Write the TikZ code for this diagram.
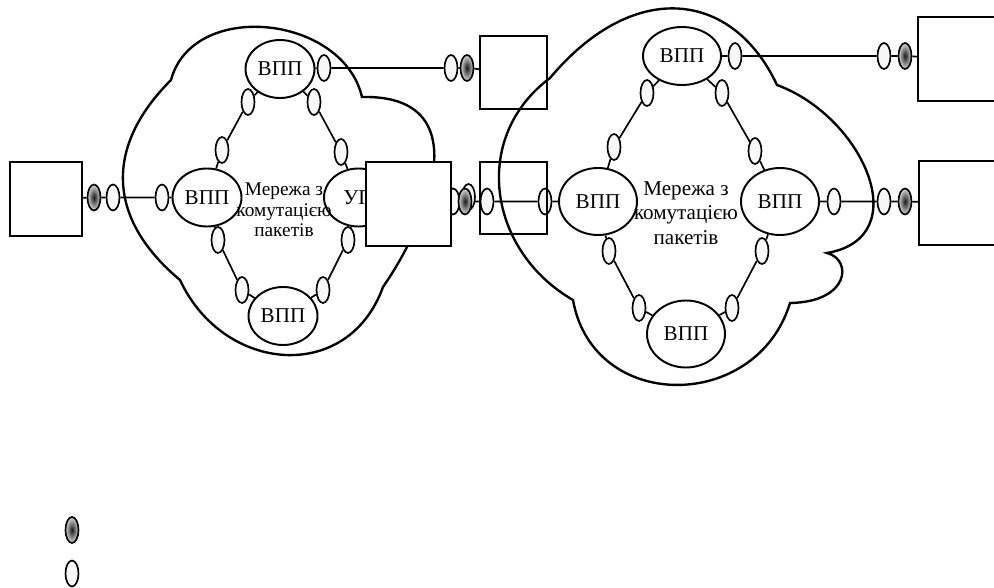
\documentclass[tikz,border=0pt]{standalone}
\usepackage{fontspec}
\setmainfont{Liberation Serif}
\usetikzlibrary{shapes.geometric,backgrounds}

\begin{document}
\begin{tikzpicture}[
  vpp/.style={draw, ellipse, line width=1.1pt, fill=white, inner sep=0pt,
    minimum width=1.38cm, minimum height=1.16cm, font=\fontsize{12}{14}\selectfont},
  vppbig/.style={vpp, minimum width=1.56cm, minimum height=1.34cm},
  port/.style={draw, ellipse, line width=0.95pt, fill=gray!6, inner sep=0pt,
    minimum width=0.26cm, minimum height=0.52cm},
  hport/.style={draw, ellipse, line width=0.95pt, inner sep=0pt,
    minimum width=0.26cm, minimum height=0.52cm, inner color=black!90, outer color=gray!30},
  termbox/.style={draw, line width=0.9pt, inner sep=0pt},
  cloudline/.style={line width=1.35pt},
  link/.style={line width=0.95pt}
]
  \useasboundingbox (0,0) rectangle (19.88,11.74);
  \clip (0,0) rectangle (19.88,11.74);

  % мережа 1
  \node[vpp] (t1) at (5.60,10.36) {ВПП};
  \node[vpp] (l1) at (4.14,7.79) {ВПП};
  \node[vpp] (u1) at (7.17,7.79) {УП};
  \node[vpp] (b1) at (5.66,5.42) {ВПП};
  \node[align=center, font=\fontsize{11}{11.8}\selectfont] (txt1) at (5.68,7.54) {Мережа з\\комутацією\\пакетів};

  \node[port] (k1a) at (4.96,9.70) {};
  \node[port] (k1b) at (4.44,8.74) {};
  \node[port] (k1c) at (6.28,9.70) {};
  \node[port] (k1d) at (6.82,8.70) {};
  \node[port] (k1e) at (4.36,6.94) {};
  \node[port] (k1f) at (4.84,5.94) {};
  \node[port] (k1g) at (6.96,6.94) {};
  \node[port] (k1h) at (6.46,5.94) {};

  % мережа 2
  \node[vppbig, minimum height=1.16cm] (t2) at (13.64,10.62) {ВПП};
  \node[vppbig] (l2) at (11.96,7.71) {ВПП};
  \node[vppbig] (r2) at (15.60,7.71) {ВПП};
  \node[vppbig] (b2) at (13.72,5.06) {ВПП};
  \node[align=center, font=\fontsize{12}{13.9}\selectfont] (txt2) at (13.72,7.48) {Мережа з\\комутацією\\пакетів};

  \node[port] (k2a) at (12.94,9.88) {};
  \node[port] (k2b) at (12.28,8.80) {};
  \node[port] (k2c) at (14.44,9.88) {};
  \node[port] (k2d) at (15.10,8.72) {};
  \node[port] (k2e) at (12.18,6.72) {};
  \node[port] (k2f) at (12.78,5.58) {};
  \node[port] (k2g) at (15.24,6.72) {};
  \node[port] (k2h) at (14.64,5.58) {};

  % зовнішні порти
  \node[hport] (hL1) at (1.88,7.79) {};
  \node[port] (eL1) at (2.26,7.79) {};
  \node[port] (pL1) at (3.24,7.79) {};

  \node[port] (pT1) at (6.48,10.38) {};
  \node[port] (eT1) at (9.02,10.38) {};
  \node[hport] (hT1) at (9.34,10.38) {};

  \node[port] (e3a) at (9.06,7.71) {};
  \node[port] (e3c) at (9.37,7.80) {};
  \node[hport] (h3b) at (9.30,7.71) {};
  \node[port] (e3d) at (9.74,7.71) {};
  \node[port] (p3e) at (10.90,7.71) {};

  \node[port] (pT2) at (14.70,10.62) {};
  \node[port] (eT2) at (17.68,10.62) {};
  \node[hport] (hT2) at (18.10,10.62) {};

  \node[port] (pR2) at (16.68,7.71) {};
  \node[port] (eR2) at (17.68,7.71) {};
  \node[hport] (hR2) at (18.10,7.71) {};

  % термінали
  \node[termbox, minimum width=1.44cm, minimum height=1.48cm] (srcL) at (0.92,7.76) {};
  \node[termbox, fill=white, minimum width=1.70cm, minimum height=1.68cm] (gw) at (8.17,7.66) {};
  \node[termbox, minimum width=1.34cm, minimum height=1.46cm] (boxA) at (10.27,10.29) {};
  \node[termbox, minimum width=1.34cm, minimum height=1.44cm] (boxB) at (10.27,7.78) {};
  \node[termbox, minimum width=1.74cm, minimum height=1.68cm] (boxC) at (19.23,10.56) {};
  \node[termbox, minimum width=1.72cm, minimum height=1.68cm] (boxD) at (19.24,7.68) {};

  % позначення
  \node[hport] (leg1) at (1.44,1.14) {};
  \node[port] (leg2) at (1.44,0.27) {};

  \begin{scope}[on background layer]
    % хмари
    \draw[cloudline] (3.42,10.14) .. controls (3.85,11.75) and (6.85,11.45) .. (7.24,9.80)
      .. controls (9.6,9.85) and (8.57,7.31) .. (7.66,6.00)
      .. controls (6.96,4.06) and (4.47,4.27) .. (3.60,6.14)
      .. controls (2.14,7.36) and (2.08,8.80) .. (3.42,10.14);
    \draw[cloudline] (11.00,10.18) .. controls (12.67,12.17) and (14.65,11.94) .. (15.54,10.04)
      .. controls (17.26,9.41) and (18.34,6.99) .. (16.54,6.68)
      .. controls (17.05,6.55) and (17.00,5.70) .. (15.80,5.68)
      .. controls (15.13,3.49) and (11.86,3.48) .. (11.46,5.74)
      .. controls (9.75,6.73) and (9.42,9.00) .. (11.00,10.18);

    % зв'язки
    \draw[link] (t1) -- (k1a) -- (k1b) -- (l1);
    \draw[link] (t1) -- (k1c) -- (k1d) -- (u1);
    \draw[link] (l1) -- (k1e) -- (k1f) -- (b1);
    \draw[link] (u1) -- (k1g) -- (k1h) -- (b1);
    \draw[link] (t2) -- (k2a) -- (k2b) -- (l2);
    \draw[link] (t2) -- (k2c) -- (k2d) -- (r2);
    \draw[link] (l2) -- (k2e) -- (k2f) -- (b2);
    \draw[link] (r2) -- (k2g) -- (k2h) -- (b2);

    \draw[link] (srcL) -- (hL1) -- (eL1) -- (pL1) -- (l1);
    \draw[link] (t1) -- (pT1) -- (eT1) -- (hT1) -- (boxA);
    \draw[link] (gw) -- (e3a) -- (h3b) -- (e3d) -- (p3e) -- (l2);
    \draw[link] (t2) -- (pT2) -- (eT2) -- (hT2) -- (boxC);
    \draw[link] (r2) -- (pR2) -- (eR2) -- (hR2) -- (boxD);
  \end{scope}
\end{tikzpicture}
\end{document}
